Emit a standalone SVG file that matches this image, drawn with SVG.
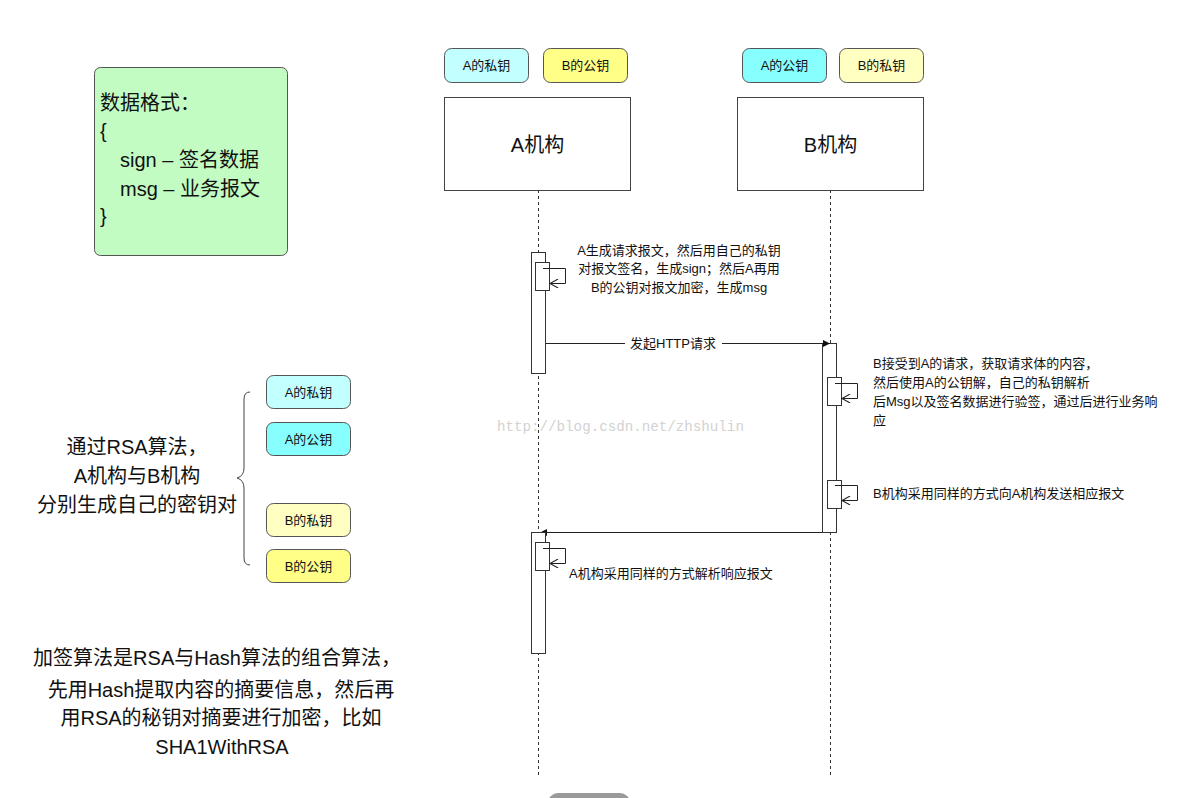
<svg xmlns="http://www.w3.org/2000/svg" width="1195" height="798" viewBox="0 0 1195 798">
<defs>
<style>
text{font-family:"Liberation Sans","Noto Sans CJK SC",sans-serif;fill:#111}
.key{stroke:#555;stroke-width:1}
.kt{font-size:13px;text-anchor:middle}
.box{fill:#fff;stroke:#444;stroke-width:1}
.life{stroke:#333;stroke-width:1;stroke-dasharray:3 3;fill:none}
.bar{fill:#fff;stroke:#333;stroke-width:1}
.ln{stroke:#222;stroke-width:1;fill:none}
.note{font-size:13px}
.big{font-size:20px}
</style>
<marker id="fill" viewBox="0 0 10 10" refX="10" refY="5" markerWidth="9" markerHeight="7" orient="auto" markerUnits="userSpaceOnUse">
<path d="M0,0 L10,5 L0,10 z" fill="#111"/>
</marker>
<marker id="open" viewBox="0 0 10 10" refX="9" refY="5" markerWidth="11" markerHeight="9" orient="auto" markerUnits="userSpaceOnUse">
<path d="M0,0 L9,5 L0,10" fill="none" stroke="#222" stroke-width="1.2"/>
</marker>
</defs>
<rect width="1195" height="798" fill="#fff"/>

<g id="data-format">
<rect x="94.5" y="67.5" width="193" height="188" rx="6" fill="#c3fcc3" stroke="#555"/>
<text class="big" x="100" y="110">数据格式：</text>
<text class="big" x="100" y="138">{</text>
<text class="big" x="120" y="167">sign – 签名数据</text>
<text class="big" x="120" y="196">msg – 业务报文</text>
<text class="big" x="100" y="223">}</text>
</g>

<g id="top-keys">
<rect class="key" x="444.5" y="48.5" width="84" height="34" rx="7" fill="#c2ffff"/>
<text class="kt" x="486.5" y="70">A的私钥</text>
<rect class="key" x="543.5" y="48.5" width="84" height="34" rx="7" fill="#ffff88"/>
<text class="kt" x="585.5" y="70">B的公钥</text>
<rect class="key" x="742.5" y="48.5" width="84" height="34" rx="7" fill="#88ffff"/>
<text class="kt" x="784.5" y="70">A的公钥</text>
<rect class="key" x="839.5" y="48.5" width="84" height="34" rx="7" fill="#ffffc2"/>
<text class="kt" x="881.5" y="70">B的私钥</text>
</g>

<g id="connectors">
<line class="life" x1="538.5" y1="190" x2="538.5" y2="776"/>
<line class="life" x1="830.5" y1="190" x2="830.5" y2="776"/>
</g>

<g id="A-org">
<rect class="box" x="444.5" y="97.5" width="186" height="93"/>
<text x="537.5" y="152" font-size="20" text-anchor="middle">A机构</text>
</g>
<g id="B-org">
<rect class="box" x="737.5" y="97.5" width="186" height="93"/>
<text x="830.5" y="152" font-size="20" text-anchor="middle">B机构</text>
</g>

<g id="A-activation-1">
<rect class="bar" x="531.5" y="252.5" width="14" height="121"/>
<rect class="bar" x="535.5" y="262.5" width="14" height="28"/>
<path class="ln" d="M543,268.5 H565.5 V283.5 H550" marker-end="url(#open)"/>
</g>
<g id="note-A1">
<text class="note" x="679" y="255" text-anchor="middle">A生成请求报文，然后用自己的私钥</text>
<text class="note" x="679" y="273" text-anchor="middle">对报文签名，生成sign；然后A再用</text>
<text class="note" x="679" y="292" text-anchor="middle">B的公钥对报文加密，生成msg</text>
</g>

<g id="B-activation">
<rect class="bar" x="822.5" y="343.5" width="14" height="189"/>
<rect class="bar" x="827.5" y="377.5" width="14" height="28"/>
<path class="ln" d="M835,383.5 H857.5 V398.5 H842" marker-end="url(#open)"/>
<rect class="bar" x="827.5" y="480.5" width="14" height="28"/>
<path class="ln" d="M835,485.5 H857.5 V500.5 H842" marker-end="url(#open)"/>
</g>

<g id="msg-request">
<line class="ln" x1="546" y1="343.5" x2="830" y2="343.5" marker-end="url(#fill)"/>
<rect x="625" y="335" width="97" height="17" fill="#fff"/>
<text class="note" x="673" y="348" text-anchor="middle">发起HTTP请求</text>
</g>

<g id="note-B1">
<text class="note" x="873" y="368">B接受到A的请求，获取请求体的内容，</text>
<text class="note" x="873" y="387">然后使用A的公钥解，自己的私钥解析</text>
<text class="note" x="873" y="406">后Msg以及签名数据进行验签，通过后进行业务响</text>
<text class="note" x="873" y="425">应</text>
</g>
<g id="note-B2">
<text class="note" x="873" y="498">B机构采用同样的方式向A机构发送相应报文</text>
</g>

<g id="msg-response">
<line class="ln" x1="822" y1="532.5" x2="540" y2="532.5" marker-end="url(#fill)"/>
</g>

<g id="A-activation-2">
<rect class="bar" x="531.5" y="532.5" width="14" height="121"/>
<rect class="bar" x="535.5" y="542.5" width="14" height="28"/>
<path class="ln" d="M543,548.5 H565.5 V563.5 H550" marker-end="url(#open)"/>
</g>
<g id="note-A2">
<text class="note" x="569" y="578">A机构采用同样的方式解析响应报文</text>
</g>

<g id="rsa-text">
<text class="big" x="137" y="454" text-anchor="middle">通过RSA算法，</text>
<text class="big" x="137" y="483" text-anchor="middle">A机构与B机构</text>
<text class="big" x="137" y="512" text-anchor="middle">分别生成自己的密钥对</text>
</g>
<g id="brace">
<path d="M250,392 Q244,392 244,399 V468 Q244,476 237,478 Q244,480 244,488 V558 Q244,565 250,565" fill="none" stroke="#444" stroke-width="1"/>
</g>

<g id="left-keys">
<rect class="key" x="266.5" y="375.5" width="84" height="33" rx="7" fill="#c2ffff"/>
<text class="kt" x="308.5" y="397">A的私钥</text>
<rect class="key" x="266.5" y="422.5" width="84" height="33" rx="7" fill="#88ffff"/>
<text class="kt" x="308.5" y="444">A的公钥</text>
<rect class="key" x="266.5" y="503.5" width="84" height="33" rx="7" fill="#ffffc2"/>
<text class="kt" x="308.5" y="525">B的私钥</text>
<rect class="key" x="266.5" y="549.5" width="84" height="33" rx="7" fill="#ffff88"/>
<text class="kt" x="308.5" y="571">B的公钥</text>
</g>

<g id="sign-text">
<text class="big" x="217" y="665" text-anchor="middle">加签算法是RSA与Hash算法的组合算法，</text>
<text class="big" x="221" y="697" text-anchor="middle">先用Hash提取内容的摘要信息，然后再</text>
<text class="big" x="221" y="725" text-anchor="middle">用RSA的秘钥对摘要进行加密，比如</text>
<text class="big" x="222" y="754" text-anchor="middle">SHA1WithRSA</text>
</g>

<text x="497" y="431" font-size="14.2" style="font-family:'Liberation Mono',monospace;fill:#d2d2d2">http://blog.csdn.net/zhshulin</text>

<rect x="548" y="793" width="82" height="20" rx="10" fill="#9a9a9a"/>
</svg>
